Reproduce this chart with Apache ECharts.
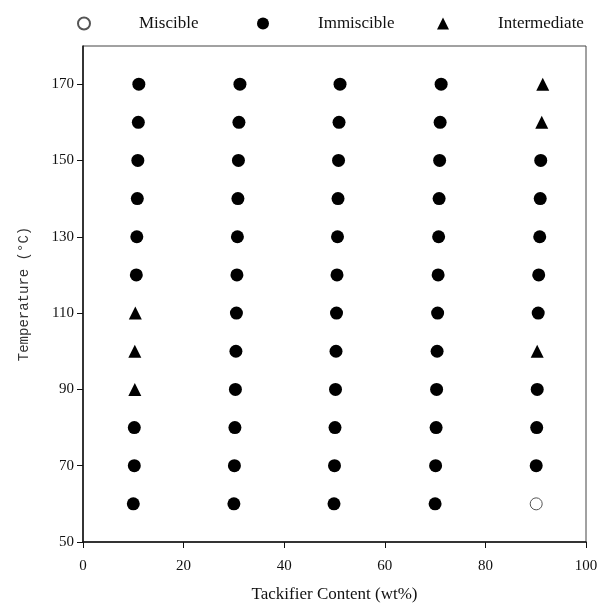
<!DOCTYPE html>
<html>
<head>
<meta charset="utf-8">
<script src="https://cdn.jsdelivr.net/npm/echarts@6/dist/echarts.min.js"></script>
<style>
html,body{margin:0;padding:0;background:#fff;}
#chart{width:601px;height:609px;}
</style>
</head>
<body>
<div id="chart"></div>
<script>
// Temperatures (°C) of each measurement row
const temps = [60, 70, 80, 90, 100, 110, 120, 130, 140, 150, 160, 170];

// Tackifier content (wt%) of each point, per column
const col10x = [10.0, 10.2, 10.2, 10.3, 10.3, 10.4, 10.6, 10.7, 10.8, 10.9, 11.0, 11.1];
const col30x = [30.0, 30.1, 30.2, 30.3, 30.4, 30.5, 30.6, 30.7, 30.8, 30.9, 31.0, 31.2];
const col50x = [49.9, 50.0, 50.1, 50.2, 50.3, 50.4, 50.5, 50.6, 50.7, 50.8, 50.9, 51.1];
const col70x = [70.0, 70.1, 70.2, 70.3, 70.4, 70.5, 70.6, 70.7, 70.8, 70.9, 71.0, 71.2];
const col90x = [90.1, 90.1, 90.2, 90.3, 90.3, 90.5, 90.6, 90.8, 90.9, 91.0, 91.2, 91.4];

// Phase state per row: M = miscible, I = immiscible, T = intermediate
const col10phase = ['I','I','I','T','T','T','I','I','I','I','I','I'];
const col30phase = ['I','I','I','I','I','I','I','I','I','I','I','I'];
const col50phase = ['I','I','I','I','I','I','I','I','I','I','I','I'];
const col70phase = ['I','I','I','I','I','I','I','I','I','I','I','I'];
const col90phase = ['M','I','I','I','T','I','I','I','I','I','T','T'];

const seriesNames = ['Miscible', 'Immiscible', 'Intermediate'];

// Axis tick labels
const xTicks = [0, 20, 40, 60, 80, 100];
const yTicks = [50, 70, 90, 110, 130, 150, 170];

const columns = [
  [col10x, col10phase], [col30x, col30phase], [col50x, col50phase],
  [col70x, col70phase], [col90x, col90phase]
];

function pointsFor(code) {
  const out = [];
  columns.forEach(([xs, ph]) => {
    ph.forEach((p, i) => { if (p === code) out.push([xs[i], temps[i]]); });
  });
  return out;
}

const serif = '"Liberation Serif", "Times New Roman", serif';
const chart = echarts.init(document.getElementById('chart'), null, {renderer: 'canvas'});

const legendLefts = [72, 252, 432];
const legends = seriesNames.map((n, i) => ({
  data: [n],
  left: legendLefts[i],
  top: 10,
  itemWidth: 12,
  itemHeight: 12,
  itemGap: 0,
  selectedMode: false,
  formatter: name => '{g|}{t|' + name + '}',
  textStyle: {
    rich: {
      g: {width: 44},
      t: {fontFamily: serif, fontSize: 17, color: '#111'}
    }
  }
}));

chart.setOption({
  animation: false,
  backgroundColor: '#fff',
  legend: legends,
  grid: {left: 83, right: 15, top: 46, bottom: 67, show: true, borderColor: '#444', borderWidth: 1},
  xAxis: {
    type: 'value', min: 0, max: 100, interval: 20,
    name: 'Tackifier Content (wt%)', nameLocation: 'middle', nameGap: 44,
    nameTextStyle: {fontFamily: serif, fontSize: 17, color: '#111'},
    axisLine: {show: true, lineStyle: {color: '#111', width: 1.5}},
    axisTick: {show: true, length: 6, lineStyle: {color: '#111'}, customValues: xTicks},
    axisLabel: {fontFamily: serif, fontSize: 15, color: '#111', margin: 17, customValues: xTicks},
    splitLine: {show: false}
  },
  yAxis: {
    type: 'value', min: 50, max: 180, interval: 10,
    name: 'Temperature (\u00B0C)', nameLocation: 'middle', nameGap: 52, nameRotate: 90,
    nameTextStyle: {fontFamily: '"Liberation Mono", "DejaVu Sans Mono", monospace', fontSize: 14, color: '#333'},
    axisLine: {show: true, lineStyle: {color: '#111', width: 1.5}},
    axisTick: {show: true, length: 6, lineStyle: {color: '#111'}, customValues: yTicks},
    axisLabel: {fontFamily: serif, fontSize: 15, color: '#111', margin: 9, customValues: yTicks},
    splitLine: {show: false}
  },
  series: [
    {
      name: 'Miscible', type: 'scatter', symbol: 'circle', symbolSize: 12,
      itemStyle: {color: '#fff', borderColor: '#555', borderWidth: 1, opacity: 1},
      data: pointsFor('M')
    },
    {
      name: 'Immiscible', type: 'scatter', symbol: 'circle', symbolSize: 13,
      itemStyle: {color: '#000', opacity: 1},
      data: pointsFor('I')
    },
    {
      name: 'Intermediate', type: 'scatter', symbol: 'triangle', symbolSize: 13,
      itemStyle: {color: '#000', opacity: 1},
      data: pointsFor('T')
    }
  ]
});
</script>
</body>
</html>
